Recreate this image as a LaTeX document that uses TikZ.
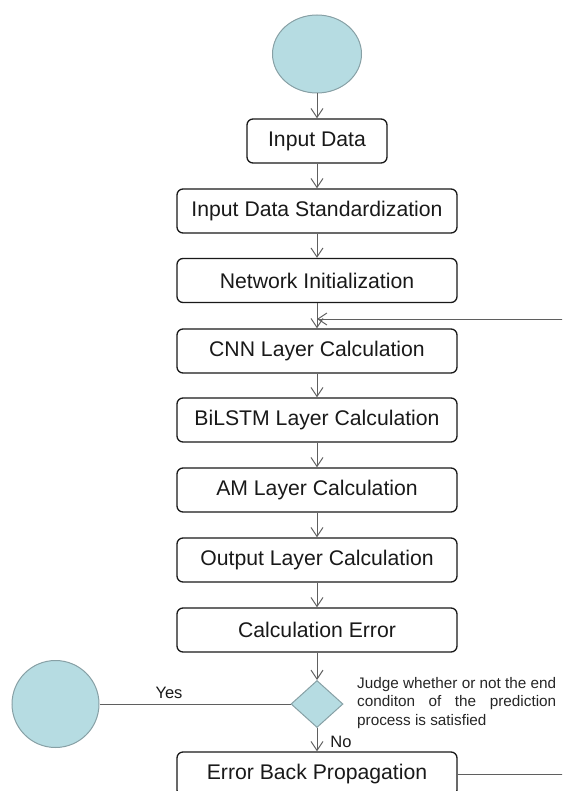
\documentclass[tikz,border=0pt]{standalone}
\usepackage{fontspec}
\setmainfont{Liberation Sans}
\usetikzlibrary{arrows.meta,shapes.geometric}
\definecolor{cfill}{RGB}{182,220,226}
\definecolor{cborder}{RGB}{135,160,165}
\definecolor{lgray}{RGB}{95,95,95}
\definecolor{bborder}{RGB}{25,25,25}
\tikzset{
  stepbox/.style={draw=bborder, line width=1.3pt, rounded corners=6pt, minimum width=280pt, minimum height=44pt, inner sep=0pt, font=\fontsize{21.2}{25}\selectfont, text=black!90},
  termnode/.style={draw=cborder, fill=cfill, line width=1pt, inner sep=0pt},
  conn/.style={draw=lgray, line width=1pt},
  arr/.style={conn, -{Straight Barb[length=9pt,width=12pt,line width=1pt]}},
  lbl/.style={font=\fontsize{16.5}{19}\selectfont, text=black!90, inner sep=0pt},
}
\begin{document}
\begin{tikzpicture}[x=1pt,y=-1pt]
\useasboundingbox (0,0) rectangle (562,791);
\clip (0,0) rectangle (562,791);
\node[termnode, ellipse, minimum width=89pt, minimum height=78pt] (start) at (317,54) {};
\node[stepbox, minimum width=140pt] (in) at (317,141) {Input Data};
\node[stepbox] (std) at (317,211) {Input Data Standardization};
\node[stepbox] (init) at (317,280.5) {Network Initialization};
\node[stepbox] (cnn) at (317,351) {CNN Layer Calculation};
\node[stepbox] (bil) at (317,420) {BiLSTM Layer Calculation};
\node[stepbox] (am) at (317,490) {AM Layer Calculation};
\node[stepbox] (out) at (317,560) {Output Layer Calculation};
\node[stepbox] (err) at (317,630) {Calculation Error};
\node[termnode, diamond, minimum width=52pt, minimum height=47pt] (judge) at (317,704) {};
\node[termnode, circle, minimum size=87pt] (stop) at (55.5,704) {};
\node[stepbox] (ebp) at (317,774) {Error Back Propagation};
\coordinate (fbr) at (575,774);
\coordinate (fbt) at (575,319);
\coordinate (fbin) at (317,319);

\draw[arr] (start) -- (in);
\draw[arr] (in) -- (std);
\draw[arr] (std) -- (init);
\draw[arr] (init) -- (cnn);
\draw[arr] (cnn) -- (bil);
\draw[arr] (bil) -- (am);
\draw[arr] (am) -- (out);
\draw[arr] (out) -- (err);
\draw[arr] (err) -- (judge);
\draw[arr] (judge) -- (ebp);
\draw[conn] (judge.west) -- (stop.east);
\draw[arr] (ebp.east) -- (fbr) -- (fbt) -- (fbin);

\node[lbl] (yes) at (169,693) {Yes};
\node[lbl] (no) at (341,742) {No};
\node[anchor=west, align=left, inner sep=0pt, font=\fontsize{15.3}{18.5}\selectfont, text=black!85] (note) at (357,703)
  {\makebox[199pt][s]{Judge whether or not the end}\\\makebox[199pt][s]{conditon of the prediction}\\process is satisfied};
\end{tikzpicture}
\end{document}
